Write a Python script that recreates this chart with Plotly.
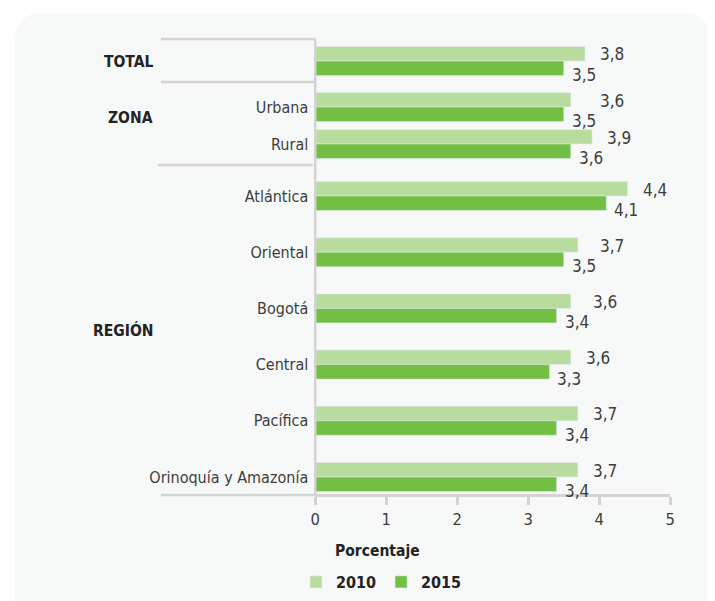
import plotly.graph_objects as go

W, H = 715, 601

# ---------------- data ----------------
years = ["2010", "2015"]
total_cats = ["TOTAL"]
zona_cats = ["Urbana", "Rural"]
region_cats = ["Atlántica", "Oriental", "Bogotá", "Central", "Pacífica", "Orinoquía y Amazonía"]

total_2010 = [3.8]
total_2015 = [3.5]
zona_2010 = [3.6, 3.9]
zona_2015 = [3.5, 3.6]
region_2010 = [4.4, 3.7, 3.6, 3.6, 3.7, 3.7]
region_2015 = [4.1, 3.5, 3.4, 3.3, 3.4, 3.4]

group_labels = ["TOTAL", "ZONA", "REGIÓN"]
x_ticks = [0, 1, 2, 3, 4, 5]
x_title = "Porcentaje"

# ---------------- style ----------------
FONT = "DejaVu Sans Condensed, Liberation Sans Narrow, sans-serif"
C2010 = "#b8dc9e"
C2015 = "#72bf44"
LINE = "#d3d3d3"
TXT = "#3d3d3d"
DARK = "#232323"
BAR_PX = 14.5
OFF = 8  # page body margin


def px(x):
    return (x - OFF) / W


def py(y):
    return 1 - (y - OFF) / H


X0_PX, X1_PX = 314.5, 674.5
AXIS_Y = 495

panels = [
    ("y", (39, 83), total_cats, total_2010, total_2015, False),
    ("y2", (88.5, 162.5), zona_cats, zona_2010, zona_2015, True),
    ("y3", (167.9, 505.1), region_cats, region_2010, region_2015, True),
]

fig = go.Figure()
annotations = []

for i, (yref, (top, bot), cats, v10, v15, show_labels) in enumerate(panels):
    n = len(cats)
    unit_px = (bot - top) / n
    w = BAR_PX / unit_px
    first = i == len(panels) - 1
    fig.add_trace(go.Bar(
        x=v10, y=cats, orientation="h", name=years[0], marker_color=C2010,
        width=w, offset=-w, yaxis=yref, xaxis="x", legendgroup=years[0],
        showlegend=first, hoverinfo="x+y"))
    fig.add_trace(go.Bar(
        x=v15, y=cats, orientation="h", name=years[1], marker_color=C2015,
        width=w, offset=0, yaxis=yref, xaxis="x", legendgroup=years[1],
        showlegend=first, hoverinfo="x+y"))
    axname = "yaxis" if yref == "y" else "yaxis" + yref[1:]
    fig.update_layout(**{axname: dict(
        type="category", categoryorder="array", categoryarray=cats,
        range=[n - 0.5, -0.5], domain=[py(bot), py(top)], anchor="x",
        showticklabels=show_labels, ticks="", showline=False, showgrid=False,
        zeroline=False, ticklabelstandoff=6,
        tickfont=dict(family=FONT, size=16, color=TXT))})
    for c, a, b in zip(cats, v10, v15):
        x10 = max(a, b + 0.4)
        annotations.append(dict(
            x=x10, y=c, xref="x", yref=yref, text=f"{a:.1f}".replace(".", ","),
            showarrow=False, xanchor="left", yanchor="middle", xshift=6, yshift=6.5,
            font=dict(family=FONT, size=17, color=TXT)))
        annotations.append(dict(
            x=b, y=c, xref="x", yref=yref, text=f"{b:.1f}".replace(".", ","),
            showarrow=False, xanchor="left", yanchor="middle", xshift=6, yshift=-14,
            font=dict(family=FONT, size=17, color=TXT)))

for lab, ypx in zip(group_labels, [62, 118, 330]):
    annotations.append(dict(
        x=px(152), y=py(ypx), xref="paper", yref="paper", text=lab, showarrow=False,
        xanchor="right", yanchor="middle",
        font=dict(family=FONT, size=15.5, color=DARK, weight="bold")))

annotations.append(dict(
    x=px(377.5), y=py(551), xref="paper", yref="paper", text=x_title, showarrow=False,
    xanchor="center", yanchor="middle",
    font=dict(family=FONT, size=15.5, color=DARK, weight="bold")))

# background panel with rounded corners
L, T, R, B, r = 10, 13, 715, 640, 28
ry = r / H
panel_path = (
    f"M {px(L + r)},{py(T)} L {px(R - r)},{py(T)} Q {px(R)},{py(T)} {px(R)},{py(T) - ry} "
    f"L {px(R)},{py(B) + ry} Q {px(R)},{py(B)} {px(R - r)},{py(B)} "
    f"L {px(L + r)},{py(B)} Q {px(L)},{py(B)} {px(L)},{py(B) + ry} "
    f"L {px(L)},{py(T) - ry} Q {px(L)},{py(T)} {px(L + r)},{py(T)} Z")

shapes = [dict(type="path", path=panel_path, xref="paper", yref="paper",
               fillcolor="#f7f8f8", line=dict(width=0), layer="below")]


def hline(x0, x1, y):
    return dict(type="line", xref="paper", yref="paper", x0=px(x0), x1=px(x1),
                y0=py(y), y1=py(y), line=dict(color=LINE, width=2.5), layer="above")


shapes += [
    hline(158, X0_PX, 39),
    hline(158, X0_PX, 82),
    hline(155, 312, 165),
    hline(158, X0_PX, AXIS_Y),
    dict(type="line", xref="paper", yref="paper", x0=px(X0_PX), x1=px(X0_PX),
         y0=py(39), y1=py(AXIS_Y), line=dict(color=LINE, width=2.5), layer="above"),
]

fig.update_layout(
    width=W, height=H,
    margin=dict(l=0, r=0, t=0, b=0),
    paper_bgcolor="white", plot_bgcolor="rgba(0,0,0,0)",
    barmode="overlay",
    font=dict(family=FONT, color=TXT),
    xaxis=dict(domain=[px(X0_PX), px(X1_PX)], range=[0, 5], tickvals=x_ticks,
               anchor="free", position=py(AXIS_Y), showline=True, linecolor=LINE,
               linewidth=2.5, ticks="outside", ticklen=8, tickwidth=2.5, tickcolor=LINE,
               showgrid=False, zeroline=False,
               tickfont=dict(family=FONT, size=16.5, color=TXT)),
    legend=dict(orientation="h", x=px(295), y=py(582), xanchor="left", yanchor="middle",
                bgcolor="rgba(0,0,0,0)",
                font=dict(family=FONT, size=16, color=DARK, weight="bold"),
                traceorder="normal"),
    annotations=annotations,
    shapes=shapes,
    showlegend=True,
)

fig.write_html("out.html")
